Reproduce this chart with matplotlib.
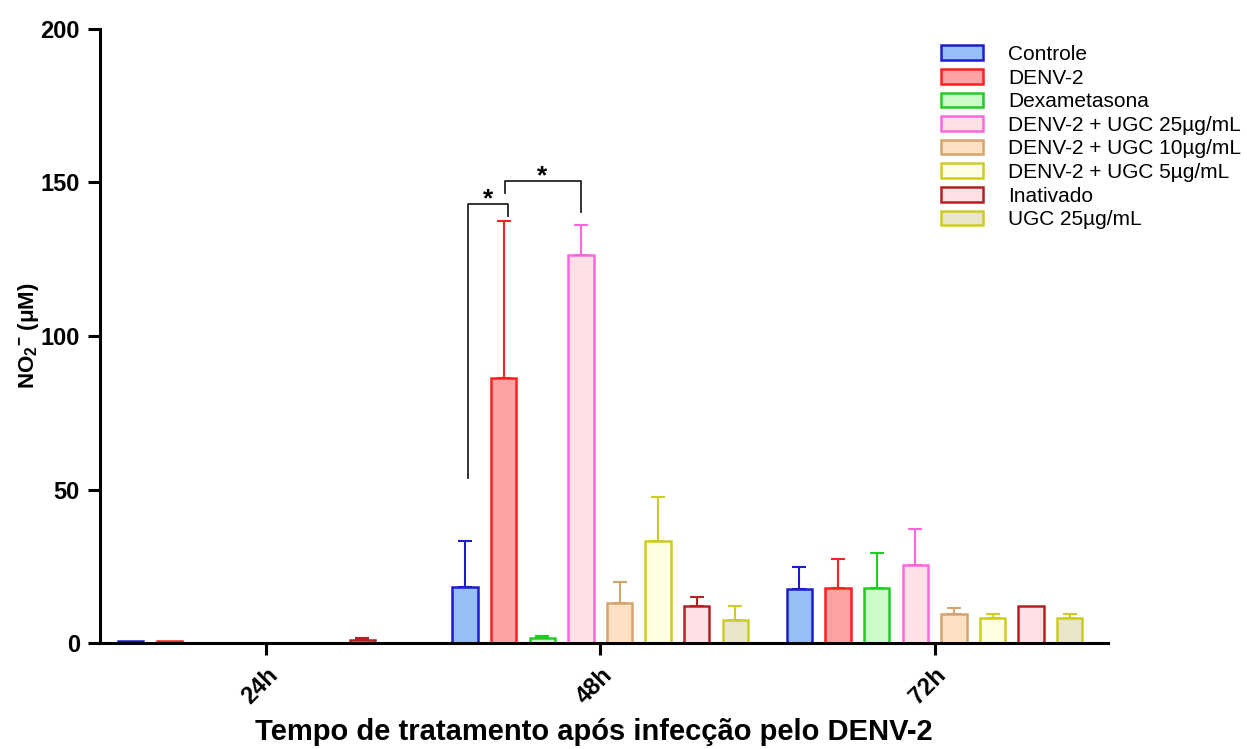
import numpy as np
import matplotlib
matplotlib.use("Agg")
import matplotlib.pyplot as plt

plt.rcParams["font.family"] = ["Liberation Sans", "DejaVu Sans"]
plt.rcParams["mathtext.fontset"] = "custom"
plt.rcParams["mathtext.rm"] = "Liberation Sans:bold"
plt.rcParams["mathtext.bf"] = "Liberation Sans:bold"
plt.rcParams["mathtext.default"] = "bf"

# data
times = ["24h", "48h", "72h"]
groups = ["Controle", "DENV-2", "Dexametasona", "DENV-2 + UGC 25µg/mL",
          "DENV-2 + UGC 10µg/mL", "DENV-2 + UGC 5µg/mL", "Inativado", "UGC 25µg/mL"]

controle = [0.8, 18.2, 17.5]
denv2 = [0.6, 86.3, 18.0]
dexa = [0.0, 1.6, 18.0]
ugc25 = [0.0, 126.4, 25.3]
ugc10 = [0.0, 13.0, 9.5]
ugc5 = [0.0, 33.2, 8.2]
inativado = [1.0, 12.2, 12.2]
ugc_only = [0.0, 7.5, 8.2]

controle_err = [0.0, 15.0, 7.2]
denv2_err = [0.0, 51.0, 9.3]
dexa_err = [0.0, 0.7, 11.2]
ugc25_err = [0.0, 9.7, 11.8]
ugc10_err = [0.0, 7.0, 2.0]
ugc5_err = [0.0, 14.4, 1.2]
inativado_err = [0.6, 2.8, 0.0]
ugc_only_err = [0.0, 4.6, 1.2]

means = [controle, denv2, dexa, ugc25, ugc10, ugc5, inativado, ugc_only]
errs = [controle_err, denv2_err, dexa_err, ugc25_err, ugc10_err, ugc5_err,
        inativado_err, ugc_only_err]

faces = ["#96bff7", "#fba3a3", "#ccfccc", "#ffe0e4", "#ffe0c2", "#ffffe2", "#ffe0e4", "#e9e5c8"]
edges = ["#1c1ccc", "#ff2020", "#22cc22", "#ff66dd", "#d4a46e", "#cccc22", "#b22222", "#cccc22"]

fig = plt.figure(figsize=(12.47, 7.49), dpi=100)
ax = fig.add_axes([0.0802, 0.1415, 0.8087, 0.8198])

x = np.arange(len(times))
step = 0.1155
width = 0.076

for i in range(len(groups)):
    pos = x + (i - 3.5) * step
    ax.bar(pos, means[i], width, color=faces[i], edgecolor=edges[i],
           linewidth=1.8, label=groups[i], zorder=2)
    e = np.array(errs[i])
    m = np.array(means[i])
    show = e > 0
    ax.errorbar(pos[show], m[show], yerr=[np.zeros(show.sum()), e[show]],
                fmt="none", ecolor=edges[i], elinewidth=1.5, capsize=4.7,
                capthick=1.5, zorder=1)

# significance brackets (48h)
p_ctrl = 1 + (0 - 3.5) * step
p_denv = 1 + (1 - 3.5) * step
p_ugc = 1 + (3 - 3.5) * step
ax.plot([p_ctrl + 0.008, p_ctrl + 0.008, p_denv + 0.012, p_denv + 0.012],
        [53.7, 143.0, 143.0, 139.0], color="#222222", lw=1.3, zorder=3)
ax.text((p_ctrl + p_denv) / 2 + 0.01, 144.5, "*", ha="center", va="center",
        fontsize=19, fontweight="bold")
ax.plot([p_denv + 0.005, p_denv + 0.005, p_ugc, p_ugc],
        [146.6, 150.5, 150.5, 140.4], color="#222222", lw=1.3, zorder=3)
ax.text((p_denv + p_ugc) / 2, 152.0, "*", ha="center", va="center",
        fontsize=19, fontweight="bold")

ax.set_xlim(-0.496, 2.52)
ax.set_ylim(0, 200)
ax.set_yticks([0, 50, 100, 150, 200])
ax.set_xticks(x)
ax.set_xticklabels(times, rotation=45, ha="right", rotation_mode="anchor")
for lab in ax.get_xticklabels() + ax.get_yticklabels():
    lab.set_fontweight("bold")
    lab.set_fontsize(17)

ax.spines["top"].set_visible(False)
ax.spines["right"].set_visible(False)
ax.spines["left"].set_linewidth(2.2)
ax.spines["bottom"].set_linewidth(2.2)
ax.tick_params(axis="both", length=8.5, width=2.2, pad=6)

ax.set_xlabel("Tempo de tratamento após infecção pelo DENV-2", fontsize=21,
              fontweight="bold", va="top")
ax.xaxis.set_label_coords(0.49, -0.122)
ax.set_ylabel(r"NO$_{2}{}^{-}$ ($\mu$M)", fontsize=16, fontweight="bold")
ax.yaxis.set_label_coords(-0.059, 0.5)

leg = ax.legend(loc="upper left", bbox_to_anchor=(0.748, 0.951),
                bbox_transform=fig.transFigure, frameon=False, fontsize=15,
                handlelength=2.0, handleheight=0.7, labelspacing=0.22,
                handletextpad=1.2, borderaxespad=0)

fig.savefig("out.png", dpi=100)
